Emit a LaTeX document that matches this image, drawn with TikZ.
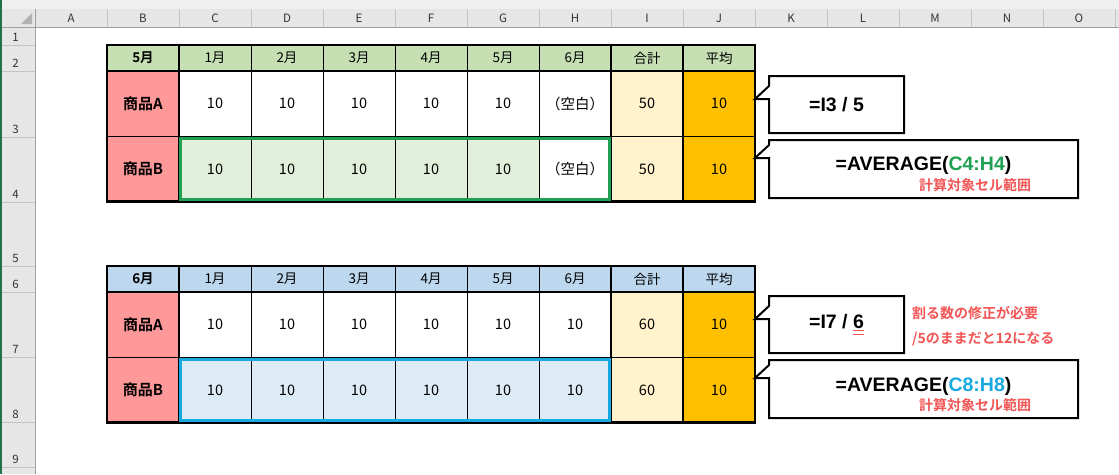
\documentclass[tikz,border=0pt]{standalone}
\usepackage{fontspec}
\setmainfont{Noto Sans CJK JP}[BoldFont={Noto Sans CJK JP Bold}]
\newfontfamily\formulafont{Liberation Sans}
\usepackage{xcolor}
\usetikzlibrary{positioning}

\definecolor{hdrgreen}{HTML}{C6E0B4}
\definecolor{hdrblue}{HTML}{BDD7EE}
\definecolor{salmon}{HTML}{FF9999}
\definecolor{totfill}{HTML}{FFF2CC}
\definecolor{avgfill}{HTML}{FFC000}
\definecolor{selgreenfill}{HTML}{E2EFDA}
\definecolor{selbluefill}{HTML}{DDEBF7}
\definecolor{selgreen}{HTML}{1FA052}
\definecolor{selblue}{HTML}{19A9E1}
\definecolor{notered}{HTML}{F25555}
\definecolor{sheetband}{HTML}{E6E6E6}
\definecolor{sheettop}{HTML}{EFEFEF}
\definecolor{sepgray}{HTML}{C4C4C4}
\definecolor{edgegray}{HTML}{A0A0A0}
\definecolor{excelgreen}{HTML}{217346}

\newcommand\itemlabel[1]{{\bfseries\fontsize{15}{17}\selectfont #1}}

\begin{document}
\begin{tikzpicture}[x=1pt,y=-1pt,line join=miter]
\tikzstyle{cell}=[draw,line width=0.8pt,anchor=north west,minimum width=72pt,inner sep=0pt,outer sep=0pt,font=\fontsize{14.5}{16}\selectfont]
\tikzstyle{hdrcell}=[cell,font=\fontsize{13.5}{15}\selectfont]
\tikzstyle{tline}=[line width=2.4pt,line cap=rect]
\tikzstyle{selbox}=[line width=3pt]
\tikzstyle{callbox}=[anchor=north west,inner sep=0pt,outer sep=0pt,font=\formulafont\bfseries\fontsize{19.5}{22}\selectfont]
\tikzstyle{callline}=[line width=2pt]
\tikzstyle{formula}=[inner sep=0pt,font=\formulafont\bfseries\fontsize{19.5}{22}\selectfont]
\tikzstyle{note}=[inner sep=0pt,text=notered,font=\bfseries\fontsize{14}{16}\selectfont]
\tikzstyle{colhead}=[inner sep=0pt,text=black!80,font=\fontsize{11.5}{13}\selectfont]
\tikzstyle{rowhead}=[inner sep=0pt,text=black!80,font=\fontsize{11.5}{13}\selectfont]

\useasboundingbox (0,0) rectangle (1119,474);
\fill[white] (0,0) rectangle (1119,474);

% sheet headers
\fill[sheettop] (0,0) rectangle (1119,9);
\fill[sheetband] (0,9) rectangle (1119,27);
\fill[sheetband] (0,27) rectangle (35,474);
\foreach \c in {1,...,15}
  \draw[sepgray] ({35+72*\c},9) -- ({35+72*\c},27);
\foreach \y in {45,71,137,202,266,292,357,422,467}
  \draw[sepgray] (0,\y) -- (35,\y);
\draw[edgegray] (0,27) -- (1119,27);
\draw[edgegray] (35,9) -- (35,474);
\fill[black!30] (32,13) -- (32,24) -- (21,24) -- cycle;
\draw[excelgreen,line width=1.5pt] (0.75,0) -- (0.75,474);
\foreach \l [count=\c from 0] in {A,...,O}
  \node[colhead] (col\l) at ({71+72*\c},18.5) {\l};
\foreach \r/\y in {1/37,2/63,3/129,4/194,5/258,6/284,7/349,8/414,9/459}
  \node[rowhead] (row\r) at (15.5,\y) {\r};

% two tables
\foreach \t/\ytop/\hA/\mon/\hdr/\sfill/\hfill/\sel/\hval/\tot in
  {1/45/65.5/5月/hdrgreen/selgreenfill/white/selgreen/（空白）/50,
   2/266/65.5/6月/hdrblue/selbluefill/selbluefill/selblue/10/60}{
  \foreach \c/\txt in {1/\textbf{\mon},2/1月,3/2月,4/3月,5/4月,6/5月,7/6月,8/合計,9/平均}
    \node[hdrcell,fill=\hdr,minimum height=26pt] (t\t-h\c) at ({35+72*\c},\ytop) {\txt};
  \foreach \c/\txt/\f in {1/\itemlabel{商品A}/salmon,2/10/white,3/10/white,4/10/white,5/10/white,
      6/10/white,7/\hval/white,8/\tot/totfill,9/10/avgfill}
    \node[cell,fill=\f,minimum height=\hA pt] (t\t-a\c) at ({35+72*\c},\ytop+26) {\txt};
  \foreach \c/\txt/\f in {1/\itemlabel{商品B}/salmon,2/10/\sfill,3/10/\sfill,4/10/\sfill,5/10/\sfill,
      6/10/\sfill,7/\hval/\hfill,8/\tot/totfill,9/10/avgfill}
    \node[cell,fill=\f,minimum height=65pt] (t\t-b\c) at ({35+72*\c},\ytop+26+\hA) {\txt};
  \draw[tline] (t\t-h1.north west) rectangle (t\t-b9.south east);
  \draw[tline] (t\t-h1.south west) -- (t\t-h9.south east);
  \foreach \c in {1,7,8}
    \draw[tline] (t\t-h\c.north east) -- (t\t-b\c.south east);
  \draw[selbox,draw=\sel] ([shift={(1.8pt,-1.8pt)}]t\t-b2.north west) rectangle ([shift={(-1.8pt,1.8pt)}]t\t-b7.south east);
}

% callouts
\node[callbox,minimum width=135pt,minimum height=57pt] (call1) at (769,76) {=I3 / 5};
\node[callbox,minimum width=309pt,minimum height=58pt] (call2) at (769,140) {};
\node[callbox,minimum width=135pt,minimum height=57pt] (call3) at (769,296)
  {=I7 / \rlap{\textcolor{notered}{\rule[-3pt]{11pt}{1.2pt}}}\rlap{\textcolor{notered}{\rule[-6.5pt]{11pt}{1.2pt}}}6};
\node[callbox,minimum width=309pt,minimum height=58pt] (call4) at (769,360) {};
\foreach \n/\d in {1/10,2/5,3/10,4/5}
  \draw[callline] (call\n.north west) -- ++(0,\d) -- ++(-14,13) -- ++(14,0)
    -- (call\n.south west) -| (call\n.north east) -- cycle;

\node[formula] (avg1) at (923.5,165.5) {=AVERAGE(\textcolor{selgreen}{C4:H4})};
\node[note] (range1) at (975,185.5) {計算対象セル範囲};
\node[note,anchor=west] (fix1) at (912,313) {割る数の修正が必要};
\node[note,anchor=west] (fix2) at (912,339) {/5のままだと12になる};
\node[formula] (avg2) at (923.5,386) {=AVERAGE(\textcolor{selblue}{C8:H8})};
\node[note] (range2) at (975,405.5) {計算対象セル範囲};
\end{tikzpicture}
\end{document}
